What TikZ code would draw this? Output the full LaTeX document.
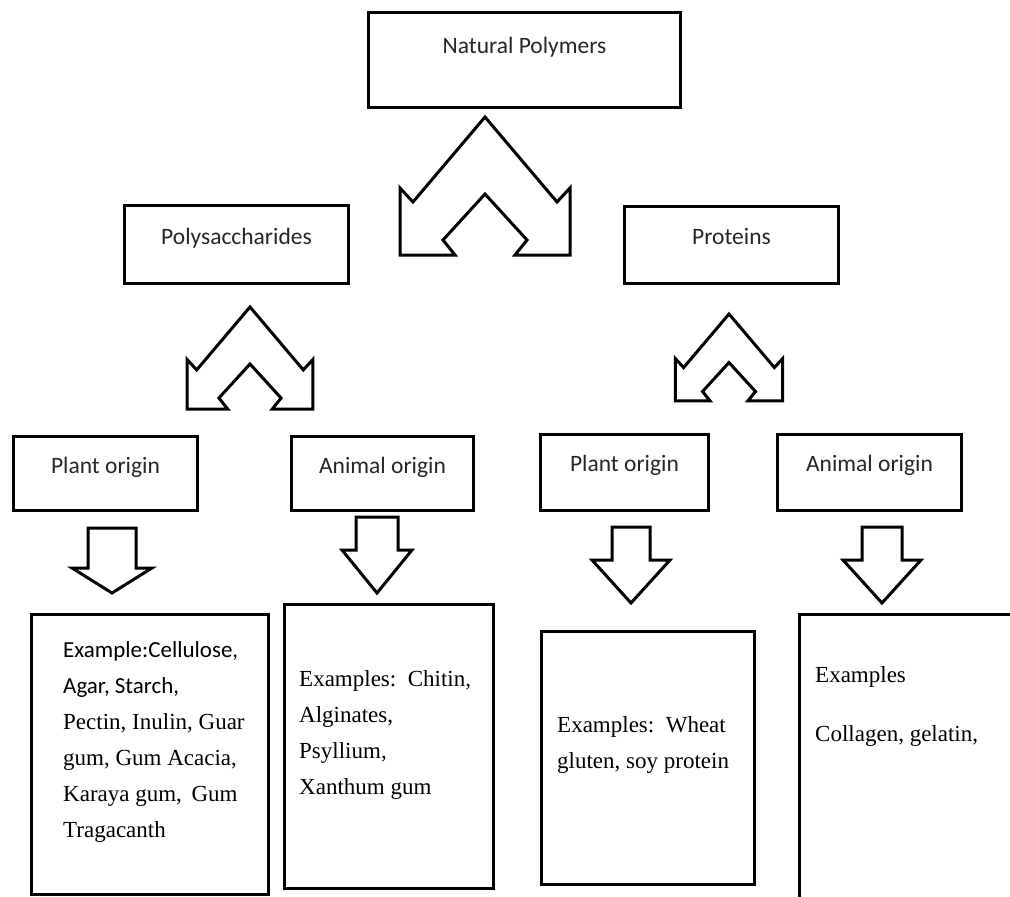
\documentclass[tikz,border=0pt]{standalone}
\usepackage{fontspec}
\setmainfont{Liberation Serif}
\newfontfamily\labelfont{Carlito}
\usepackage{tikz}

% block arrow pointing down: centre x, top y, shaft half width, head y, head half width, tip y
\newcommand{\downblock}[6]{%
	\draw[blockline] (#1-#3,-#2) -- (#1+#3,-#2) -- (#1+#3,-#4) -- (#1+#5,-#4)
		-- (#1,-#6) -- (#1-#5,-#4) -- (#1-#3,-#4) -- cycle;}

\tikzset{
	box/.style={draw, line width=3pt, inner sep=0pt, anchor=north west,
		font=\labelfont\fontsize{23.5}{28}\selectfont, text=black!85},
	exbox/.style={draw, line width=3pt, inner sep=0pt, anchor=north west},
	extext/.style={inner sep=0pt, anchor=north west, align=left,
		font=\fontsize{23}{36}\selectfont, text=black},
	blockline/.style={line width=3pt, line join=miter},
	chevron/.pic={
		\draw[blockline] (0,0) -- (-72,-85) -- (-85,-71) -- (-85,-138) -- (-30,-138)
			-- (-42,-123) -- (0,-77) -- (42,-123) -- (30,-138) -- (85,-138)
			-- (85,-71) -- (72,-85) -- cycle;}
}

\begin{document}
\begin{tikzpicture}[x=1pt, y=1pt]
	\clip (0,0) rectangle (1010,-897);
	\fill[white] (0,0) rectangle (1010,-897);

	% top level
	\node[box, minimum width=312pt, text height=41pt, text depth=54pt] (np) at (367,-11) {Natural Polymers};
	\pic at (485,-117) {chevron};

	% second level
	\node[box, minimum width=224pt, text height=39pt, text depth=39pt] (poly) at (123,-204) {Polysaccharides};
	\node[box, minimum width=214pt, text height=38pt, text depth=39pt] (prot) at (623,-205) {Proteins};
	\pic[scale=0.74] at (250,-307) {chevron};
	\pic[scale=0.63] at (729,-314) {chevron};

	% origin boxes
	\node[box, minimum width=184pt, text height=37pt, text depth=37pt] (plantA) at (12,-435) {Plant origin};
	\node[box, minimum width=182pt, text height=37pt, text depth=37pt] (animA) at (290,-435) {Animal origin};
	\node[box, minimum width=168pt, text height=37pt, text depth=39pt] (plantB) at (539,-433) {Plant origin};
	\node[box, minimum width=184pt, text height=37pt, text depth=39pt] (animB) at (776,-433) {Animal origin};

	\downblock{112}{528}{24}{568}{40}{593}
	\downblock{377}{517}{21}{550}{35}{593}
	\downblock{631}{527}{19}{560}{39}{603}
	\downblock{882}{527}{20}{560}{39}{603}

	% example boxes
	\node[exbox, minimum width=237pt, minimum height=280pt] (exA) at (30,-613) {};
	\node[exbox, minimum width=209pt, minimum height=284pt] (exB) at (283,-603) {};
	\node[exbox, minimum width=213pt, minimum height=253pt] (exC) at (540,-630) {};
	\node[exbox, minimum width=240pt, minimum height=320pt] (exD) at (798,-613) {};

	\node[extext] (txA) at (63,-641) {\labelfont Example:Cellulose,\\ \labelfont Agar, Starch,\\
		Pectin, Inulin, Guar\\ gum, Gum Acacia,\\ Karaya gum, \,Gum\\ Tragacanth};
	\node[extext] (txB) at (299,-670) {Examples: \,Chitin,\\ Alginates,\\ Psyllium,\\ Xanthum gum};
	\node[extext] (txC) at (557,-716) {Examples: \,Wheat\\ gluten, soy protein};
	\node[extext] (txD) at (815,-666) {Examples\\[23pt] Collagen, gelatin,};
\end{tikzpicture}
\end{document}
